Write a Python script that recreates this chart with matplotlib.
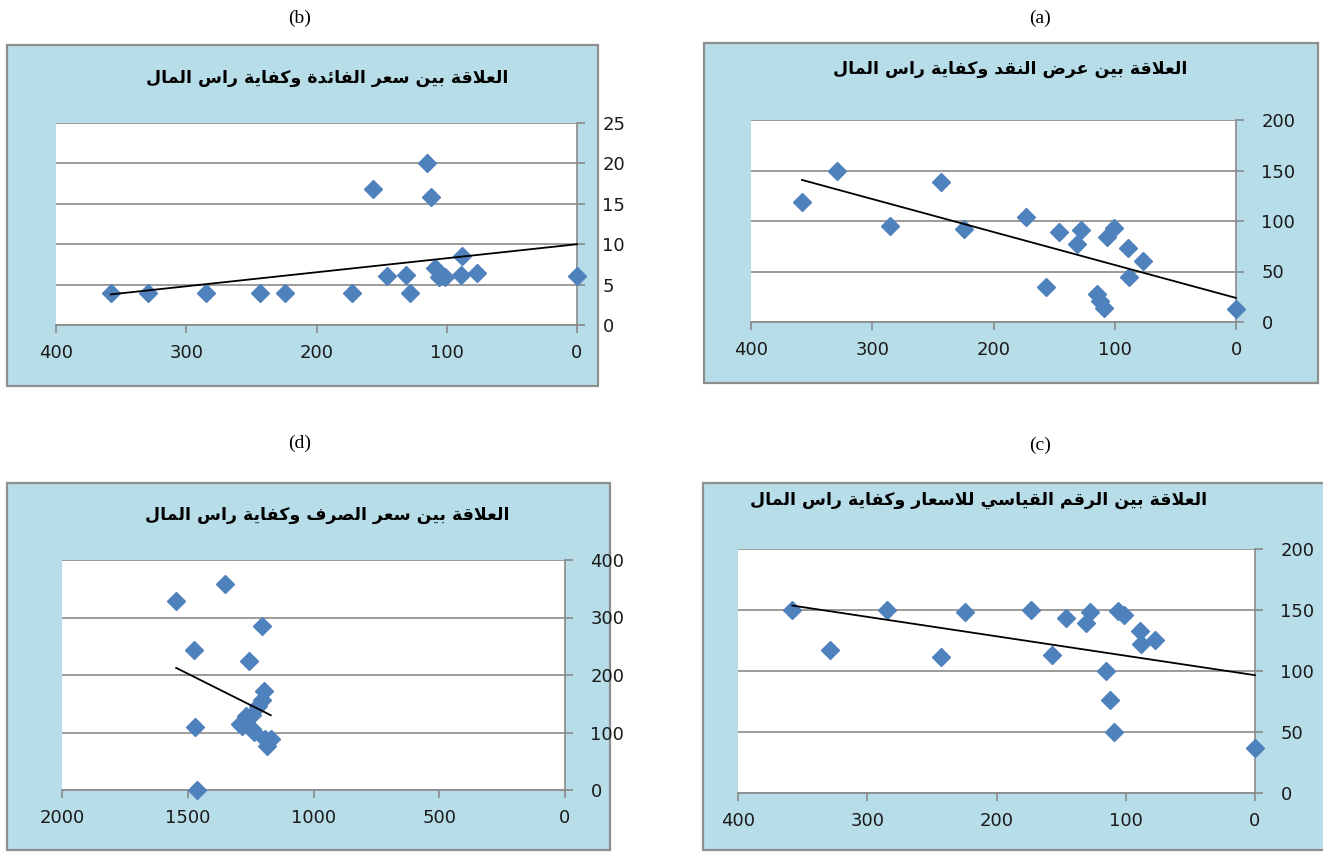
import matplotlib
matplotlib.use("Agg")
import matplotlib.pyplot as plt
from matplotlib.patches import Rectangle
import numpy as np

# ---------------- data ----------------
# capital adequacy ratio (x in a, b, c ; y in d)
capital_adequacy = [358, 329, 285, 243, 224, 173, 157, 146, 131, 128, 115, 112, 109, 106, 101, 89, 88, 77, 0]
money_supply = [119, 150, 95, 139, 92, 104, 35, 89.5, 77.5, 91, 27.5, 21, 13.5, 84, 93.5, 73, 45, 60, 13]
interest_rate = [3.9, 3.9, 3.9, 3.9, 3.9, 3.9, 16.8, 6.05, 6.2, 3.9, 20, 15.9, 7.0, 6.0, 6.0, 6.2, 8.5, 6.4, 6.05]
price_index = [149.6, 117.4, 149.6, 111.7, 148.5, 149.6, 113, 143.6, 139, 148.5, 100, 76, 50.4, 149, 145.5, 133, 122, 125.5, 36.5]
exchange_rate = [1350, 1546, 1205, 1476, 1256, 1195, 1203, 1222, 1246, 1269, 1292, 1285, 1472, 1245, 1238, 1193, 1170, 1185, 1465]

title_a = "العلاقة بين عرض النقد وكفاية راس المال"
title_b = "العلاقة بين سعر الفائدة وكفاية راس المال"
title_c = "العلاقة بين الرقم القياسي للاسعار وكفاية راس المال"
title_d = "العلاقة بين سعر الصرف وكفاية راس المال"

# ---------------- simple Arabic shaping ----------------
FORMS = {
    'ا': ('\uFE8D', '\uFE8E', None, None),
    'ب': ('\uFE8F', '\uFE90', '\uFE91', '\uFE92'),
    'ة': ('\uFE93', '\uFE94', None, None),
    'د': ('\uFEA9', '\uFEAA', None, None),
    'ر': ('\uFEAD', '\uFEAE', None, None),
    'س': ('\uFEB1', '\uFEB2', '\uFEB3', '\uFEB4'),
    'ص': ('\uFEB9', '\uFEBA', '\uFEBB', '\uFEBC'),
    'ض': ('\uFEBD', '\uFEBE', '\uFEBF', '\uFEC0'),
    'ع': ('\uFEC9', '\uFECA', '\uFECB', '\uFECC'),
    'ف': ('\uFED1', '\uFED2', '\uFED3', '\uFED4'),
    'ق': ('\uFED5', '\uFED6', '\uFED7', '\uFED8'),
    'ك': ('\uFED9', '\uFEDA', '\uFEDB', '\uFEDC'),
    'ل': ('\uFEDD', '\uFEDE', '\uFEDF', '\uFEE0'),
    'م': ('\uFEE1', '\uFEE2', '\uFEE3', '\uFEE4'),
    'ن': ('\uFEE5', '\uFEE6', '\uFEE7', '\uFEE8'),
    'و': ('\uFEED', '\uFEEE', None, None),
    'ي': ('\uFEF1', '\uFEF2', '\uFEF3', '\uFEF4'),
    'ئ': ('\uFE89', '\uFE8A', '\uFE8B', '\uFE8C'),
    'LA': ('\uFEFB', '\uFEFC', None, None),
}


def shape(text):
    toks = []
    i = 0
    while i < len(text):
        if text[i] == 'ل' and i + 1 < len(text) and text[i + 1] == 'ا':
            toks.append('LA')
            i += 2
        else:
            toks.append(text[i])
            i += 1
    out = []
    n = len(toks)
    for k, t in enumerate(toks):
        if t not in FORMS:
            out.append(t)
            continue
        f = FORMS[t]
        jp = k > 0 and toks[k - 1] in FORMS and FORMS[toks[k - 1]][2] is not None
        jn = f[2] is not None and k + 1 < n and toks[k + 1] in FORMS
        if jp and jn:
            out.append(f[3])
        elif jp:
            out.append(f[1])
        elif jn:
            out.append(f[2])
        else:
            out.append(f[0])
    return ''.join(out)[::-1]


# ---------------- layout ----------------
W, H = 1323, 852
fig = plt.figure(figsize=(W / 100, H / 100), dpi=100)
fig.patch.set_facecolor('white')

BOX_BG = '#B7DDE8'
BOX_EDGE = '#8f8f8f'
GRID = '#8a8a8a'
MARK = '#4F81BD'


def add_box(x0, y0, x1, y1):
    r = Rectangle((x0 / W, 1 - y1 / H), (x1 - x0) / W, (y1 - y0) / H,
                  transform=fig.transFigure, facecolor=BOX_BG,
                  edgecolor=BOX_EDGE, linewidth=1.6, zorder=-5)
    fig.patches.append(r)


def panel(box, area, title, tpos, label, lpos, x, y, xlim, xticks, ylim, yticks):
    add_box(*box)
    x0, y0, x1, y1 = area
    ax = fig.add_axes([x0 / W, 1 - y1 / H, (x1 - x0) / W, (y1 - y0) / H])
    ax.set_zorder(1)
    ax.set_facecolor('white')
    ax.set_xlim(*xlim)
    ax.set_ylim(*ylim)
    ax.set_xticks(xticks)
    ax.set_yticks(yticks)
    ax.yaxis.tick_right()
    for s in ['left', 'top']:
        ax.spines[s].set_visible(False)
    for s in ['right', 'bottom']:
        ax.spines[s].set_color(GRID)
        ax.spines[s].set_linewidth(1.2)
    ax.grid(axis='y', color=GRID, linewidth=1.2, zorder=0)
    ax.set_axisbelow(True)
    ax.tick_params(axis='x', direction='out', length=5.8, width=1.2, color=GRID,
                   labelsize=13, labelcolor='#1a1a1a', pad=8)
    ax.tick_params(axis='y', direction='out', length=5.8, width=1.2, color=GRID,
                   labelsize=13, labelcolor='#1a1a1a', pad=12.5)
    for t in ax.get_xticklabels() + ax.get_yticklabels():
        t.set_fontfamily('DejaVu Sans')
    ax.plot(x, y, linestyle='none', marker='D', markersize=8.8, color=MARK,
            markeredgecolor=MARK, clip_on=False, zorder=3)
    xa = np.array(x, dtype=float)
    ya = np.array(y, dtype=float)
    m, c = np.polyfit(xa, ya, 1)
    xs = np.array([xa.min(), xa.max()])
    ax.plot(xs, m * xs + c, color='black', linewidth=1.3, zorder=4, clip_on=False)
    fig.text(tpos[0] / W, 1 - tpos[1] / H, shape(title), ha='center', va='center',
             fontsize=12.5, fontweight='bold', fontfamily='DejaVu Sans', color='black')
    fig.text(lpos[0] / W, 1 - lpos[1] / H, label, ha='center', va='center',
             fontsize=14, fontfamily='Liberation Serif', color='black')
    return ax


# (b) top-left
panel((7, 45, 598, 386), (56, 123, 577, 325), title_b, (327, 78), '(b)', (300, 18),
      capital_adequacy, interest_rate, (400, 0), [400, 300, 200, 100, 0],
      (0, 25), [0, 5, 10, 15, 20, 25])

# (a) top-right
panel((704, 43, 1318, 383), (751, 120, 1236, 322), title_a, (1010, 69), '(a)', (1040, 18),
      capital_adequacy, money_supply, (400, 0), [400, 300, 200, 100, 0],
      (0, 200), [0, 50, 100, 150, 200])

# (d) bottom-left
panel((7, 483, 610, 850), (62, 560, 565, 790), title_d, (327, 515), '(d)', (300, 443),
      exchange_rate, capital_adequacy, (2000, 0), [2000, 1500, 1000, 500, 0],
      (0, 400), [0, 100, 200, 300, 400])

# (c) bottom-right
panel((703, 483, 1330, 850), (738, 549, 1255, 793), title_c, (979, 500), '(c)', (1040, 445),
      capital_adequacy, price_index, (400, 0), [400, 300, 200, 100, 0],
      (0, 200), [0, 50, 100, 150, 200])

fig.savefig('out.png', dpi=100, facecolor='white')
